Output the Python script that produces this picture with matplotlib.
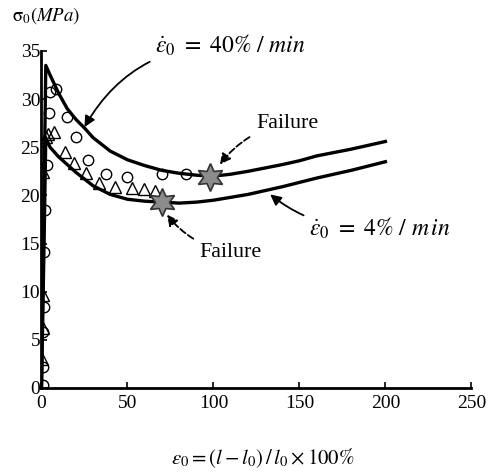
import matplotlib.pyplot as plt

plt.rcParams["font.family"] = ["Liberation Serif", "DejaVu Serif"]
plt.rcParams["mathtext.fontset"] = "stix"

# fitted curve, 40 %/min
fast_x = [0, 1.5, 2.5, 5, 10, 15, 20, 25, 30, 40, 50, 60, 70, 80, 90, 100,
          110, 120, 140, 150, 160, 180, 200]
fast_y = [0, 20, 33.5, 32.5, 30.6, 29.0, 27.9, 27.0, 26.0, 24.6, 23.7, 23.1,
          22.6, 22.3, 22.1, 22.0, 22.2, 22.5, 23.2, 23.6, 24.1, 24.8, 25.6]

# fitted curve, 4 %/min
slow_x = [0, 1.5, 2.5, 5, 10, 15, 20, 30, 40, 50, 60, 70, 80, 90, 100, 120,
          140, 160, 180, 200]
slow_y = [0, 15, 26, 25.0, 24.0, 23.2, 22.4, 21.0, 20.1, 19.6, 19.4, 19.3,
          19.2, 19.3, 19.5, 20.1, 20.9, 21.8, 22.6, 23.5]

# test points
circ_x = [0.8, 0.8, 1.0, 1.2, 1.5, 1.8, 3.5, 4.5, 5, 8.4, 14.6, 20, 27, 37.5,
          50, 70, 84]
circ_y = [0.3, 2.2, 5.8, 8.4, 14.1, 18.5, 23.2, 28.6, 30.7, 31.1, 28.1, 26.1,
          23.7, 22.2, 21.9, 22.2, 22.2]
tri_x = [0.5, 0.6, 0.8, 1.0, 2.5, 4, 7, 13.7, 19, 26, 33.5, 42.7, 52.5,
         59.5, 66]
tri_y = [3.0, 6.2, 9.7, 22.4, 26.1, 26.4, 26.6, 24.5, 23.4, 22.3, 21.3,
         20.9, 20.8, 20.7, 20.5]

# failure points
fail_x = [98, 70]
fail_y = [21.9, 19.3]

fig = plt.figure(figsize=(4.88, 4.72), dpi=100)
ax = fig.add_axes([0.085, 0.178, 0.881, 0.714])

ax.plot(fast_x, fast_y, color="k", lw=2.4, zorder=3)
ax.plot(slow_x, slow_y, color="k", lw=2.4, zorder=3)
ax.plot(circ_x, circ_y, "o", ms=7.5, mfc="none", mec="k", mew=1.0, zorder=4)
ax.plot(tri_x, tri_y, "^", ms=8, mfc="none", mec="k", mew=1.0, zorder=4)
ax.plot(fail_x, fail_y, marker=(6, 1, 0), ls="none", ms=20, mfc="#8c8c8c",
        mec="#333333", mew=1.2, zorder=5)

ax.set_xlim(0, 250)
ax.set_ylim(0, 35)
ax.set_xticks([0, 50, 100, 150, 200, 250])
ax.set_yticks([0, 5, 10, 15, 20, 25, 30, 35])
ax.spines["top"].set_visible(False)
ax.spines["right"].set_visible(False)
ax.spines["left"].set_linewidth(2)
ax.spines["bottom"].set_linewidth(2)
ax.tick_params(direction="in", length=4, width=1.2, labelsize=14)
ax.tick_params(axis="x", pad=5)
ax.tick_params(axis="y", pad=1)

ax.annotate(r"$\dot{\varepsilon}_0\ =\ 40\%\ /\ min$", xy=(25, 27.1),
            xytext=(66, 35.6), fontsize=17, va="center", ha="left",
            annotation_clip=False,
            arrowprops=dict(arrowstyle="-|>", color="k", lw=1.3,
                            mutation_scale=16, shrinkA=2, shrinkB=0,
                            connectionstyle="arc3,rad=0.3"))
ax.annotate(r"$\dot{\varepsilon}_0\ =\ 4\%\ /\ m\,in$", xy=(133, 20.1),
            xytext=(155.5, 16.6), fontsize=17, va="center", ha="left",
            arrowprops=dict(arrowstyle="-|>", color="k", lw=1.3,
                            mutation_scale=16, shrinkA=2, shrinkB=0,
                            connectionstyle="arc3,rad=-0.2"))
ax.annotate("Failure", xy=(103.8, 23.2), xytext=(124.7, 27.5), fontsize=15.8,
            va="center", ha="left",
            arrowprops=dict(arrowstyle="-|>", color="k", lw=1.3, ls="--",
                            mutation_scale=16, shrinkA=3, shrinkB=0,
                            connectionstyle="arc3,rad=0.2"))
ax.annotate("Failure", xy=(73, 18.0), xytext=(92, 14.1), fontsize=15.8,
            va="center", ha="left",
            arrowprops=dict(arrowstyle="-|>", color="k", lw=1.3, ls="--",
                            mutation_scale=16, shrinkA=3, shrinkB=0,
                            connectionstyle="arc3,rad=-0.2"))

fig.text(0.025, 0.968, r"$\mathrm{\sigma}_0(MPa)$", fontsize=13.5,
         va="center", ha="left")
fig.text(0.539, 0.03, r"$\varepsilon_0 = (l - l_0)\,/\,l_0 \times 100\%$",
         fontsize=15, va="center", ha="center")

fig.savefig("out.png", dpi=100)
